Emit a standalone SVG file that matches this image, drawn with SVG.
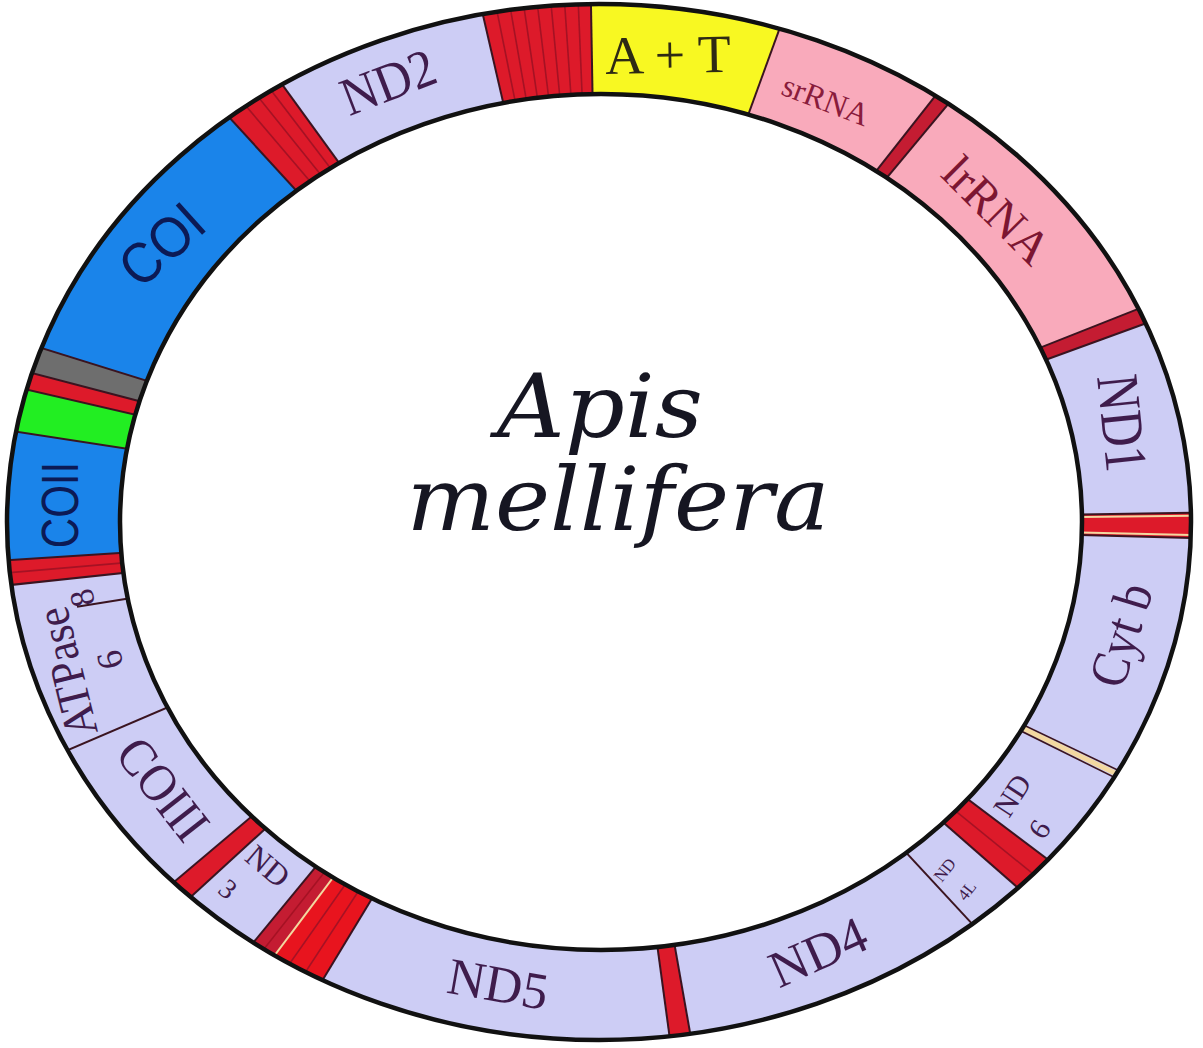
<svg xmlns="http://www.w3.org/2000/svg" width="1203" height="1048" viewBox="0 0 1203 1048">
<defs>
<clipPath id="ring"><path clip-rule="evenodd" d="M7,522 a592,518 0 1,0 1184,0 a592,518 0 1,0 -1184,0 Z M120,522 a481,428 0 1,0 962,0 a481,428 0 1,0 -962,0 Z"/></clipPath>
<style>
.nd{fill:#cdcdf5}
.rna{fill:#f9aabb}
.red{fill:#dd1a2a}
.dred{fill:#c41c32}
.blue{fill:#1a84ea}
.b{stroke:#3a1420;stroke-width:2}
.st{stroke:#a51224;stroke-width:1.6}
.pale{stroke:#f3d8a0;stroke-width:2}
.lbl{font-family:"Liberation Serif","Times New Roman",serif;fill:#3f1c4c;text-anchor:middle;dominant-baseline:central}
.sans{font-family:"Liberation Sans",Arial,sans-serif;fill:#0c1a55;text-anchor:middle;dominant-baseline:central}
.outl{fill:none;stroke:#111;stroke-width:4.5}
</style>
</defs>
<rect width="1203" height="1048" fill="#fff"/>

<g id="seg-COI"><polygon class="blue" clip-path="url(#ring)" points="600,522 -259.3,254.4 -8,-141.6"/><text class="sans" font-size="52" transform="translate(162,245) rotate(-42) scale(1,1.1)">COI</text></g>
<g id="trna-COI-ND2"><polygon class="red" clip-path="url(#ring)" points="600,522 -8,-141.6 71,-206.1"/></g>
<g id="seg-ND2"><polygon class="nd" clip-path="url(#ring)" points="600,522 71,-206.1 397.5,-354.9"/><text class="lbl" font-size="50" transform="translate(388,82) rotate(-21) scale(1,1.08)">ND2</text></g>
<g id="trna-ND2-AT"><polygon class="red" clip-path="url(#ring)" points="600,522 397.5,-354.9 584.3,-377.9"/></g>
<g id="seg-AT"><polygon fill="#f8f822" clip-path="url(#ring)" points="600,522 584.3,-377.9 907.8,-323.7"/><text class="lbl" font-size="54" style="fill:#2e2a14" transform="translate(668,55) rotate(-1)">A + T</text></g>
<g id="seg-srRNA"><polygon class="rna" clip-path="url(#ring)" points="600,522 907.8,-323.7 1156.6,-185.3"/><text class="lbl" font-size="32" style="fill:#8a1c3c" transform="translate(826,100) rotate(21)">srRNA</text></g>
<g id="trna-sr-lr"><polygon class="dred" clip-path="url(#ring)" points="600,522 1156.6,-185.3 1176.1,-169.5"/></g>
<g id="seg-lrRNA"><polygon class="rna" clip-path="url(#ring)" points="600,522 1176.1,-169.5 1436.8,190.7"/><text class="lbl" font-size="48" style="fill:#7c1632" transform="translate(997,210) rotate(45)">lrRNA</text></g>
<g id="trna-lr-ND1"><polygon class="dred" clip-path="url(#ring)" points="600,522 1436.8,190.7 1445.7,214.2"/></g>
<g id="seg-ND1"><polygon class="nd" clip-path="url(#ring)" points="600,522 1445.7,214.2 1499.9,507.9"/><text class="lbl" font-size="50" transform="translate(1122,423) rotate(84) scale(1,1.2)">ND1</text></g>
<g id="trna-ND1-Cytb"><polygon class="red" clip-path="url(#ring)" points="600,522 1499.9,507.9 1499.7,546.3"/></g>
<g id="seg-Cytb"><polygon class="nd" clip-path="url(#ring)" points="600,522 1499.7,546.3 1408.9,916.5"/><text class="lbl" font-size="48" transform="translate(1121,635) rotate(-73) scale(1,1.12)">Cyt b</text></g>
<g id="seg-ND6"><polygon class="nd" clip-path="url(#ring)" points="600,522 1408.9,916.5 1318.8,1063.6"/><text class="lbl" font-size="30" transform="translate(1012,795) rotate(-57)">ND</text><text class="lbl" font-size="30" transform="translate(1039,829) rotate(-57)">6</text></g>
<g id="trna-ND6-ND4L"><polygon class="red" clip-path="url(#ring)" points="600,522 1318.8,1063.6 1277.1,1114.9"/></g>
<g id="seg-ND4L"><polygon class="nd" clip-path="url(#ring)" points="600,522 1277.1,1114.9 1211.5,1182.4"/><text class="lbl" font-size="17" transform="translate(945,870) rotate(-52)">ND</text><text class="lbl" font-size="17" transform="translate(967,891) rotate(-52)">4L</text></g>
<g id="seg-ND4"><polygon class="nd" clip-path="url(#ring)" points="600,522 1211.5,1182.4 756.3,1408.3"/><text class="lbl" font-size="52" transform="translate(818,952) rotate(-24)">ND4</text></g>
<g id="trna-ND4-ND5"><polygon class="red" clip-path="url(#ring)" points="600,522 756.3,1408.3 720.6,1413.9"/></g>
<g id="seg-ND5"><polygon class="nd" clip-path="url(#ring)" points="600,522 720.6,1413.9 133.8,1291.8"/><text class="lbl" font-size="52" transform="translate(498,984) rotate(10)">ND5</text></g>
<g id="trna-ND5-ND3"><polygon fill="#e8141e" clip-path="url(#ring)" points="600,522 133.8,1291.8 59.6,1241.7"/><polygon class="dred" clip-path="url(#ring)" points="600,522 59.6,1241.7 27.5,1216.5"/></g>
<g id="seg-ND3"><polygon class="nd" clip-path="url(#ring)" points="600,522 27.5,1216.5 -63.6,1130"/><text class="lbl" font-size="32" transform="translate(268,866) rotate(40)">ND</text><text class="lbl" font-size="28" transform="translate(228,889) rotate(40)">3</text></g>
<g id="trna-ND3-COIII"><polygon class="red" clip-path="url(#ring)" points="600,522 -63.6,1130 -87.4,1102.9"/></g>
<g id="seg-COIII"><polygon class="nd" clip-path="url(#ring)" points="600,522 -87.4,1102.9 -227.2,876.5"/><text class="lbl" font-size="48" transform="translate(163,789) rotate(52) scale(1,1.1)">COIII</text></g>
<g id="seg-ATPase"><polygon class="nd" clip-path="url(#ring)" points="600,522 -227.2,876.5 -294.9,617.6"/><text class="lbl" font-size="43" transform="translate(67,672) rotate(-104) scale(1,1.1)">ATPase</text><text class="lbl" font-size="36" transform="translate(110,660) rotate(-104)">6</text><text class="lbl" font-size="34" transform="translate(82,598) rotate(-104)">8</text></g>
<g id="trna-ATP-COII"><polygon class="red" clip-path="url(#ring)" points="600,522 -294.9,617.6 -298.1,580.1"/></g>
<g id="seg-COII"><polygon class="blue" clip-path="url(#ring)" points="600,522 -298.1,580.1 -289.4,384.3"/><text class="sans" font-size="42" transform="translate(60,505) rotate(-90) scale(1,1.25)">COII</text></g>
<g id="seg-green"><polygon fill="#22ee22" clip-path="url(#ring)" points="600,522 -289.4,384.3 -276.9,319.5"/></g>
<g id="trna-green-gray"><polygon class="red" clip-path="url(#ring)" points="600,522 -276.9,319.5 -270.5,293.6"/></g>
<g id="seg-gray"><polygon fill="#6e6e6e" clip-path="url(#ring)" points="600,522 -270.5,293.6 -259.3,254.4"/></g>

<g id="connectors" clip-path="url(#ring)">
<g class="st">
<line x1="600" y1="522" x2="1500" y2="522" transform="rotate(229.6 600 522)"/>
<line x1="600" y1="522" x2="1500" y2="522" transform="rotate(231.2 600 522)"/>
<line x1="600" y1="522" x2="1500" y2="522" transform="rotate(232.7 600 522)"/>
<line x1="600" y1="522" x2="1500" y2="522" transform="rotate(258.6 600 522)"/>
<line x1="600" y1="522" x2="1500" y2="522" transform="rotate(260.1 600 522)"/>
<line x1="600" y1="522" x2="1500" y2="522" transform="rotate(261.6 600 522)"/>
<line x1="600" y1="522" x2="1500" y2="522" transform="rotate(263.1 600 522)"/>
<line x1="600" y1="522" x2="1500" y2="522" transform="rotate(264.6 600 522)"/>
<line x1="600" y1="522" x2="1500" y2="522" transform="rotate(266.1 600 522)"/>
<line x1="600" y1="522" x2="1500" y2="522" transform="rotate(267.6 600 522)"/>
<line x1="600" y1="522" x2="1500" y2="522" transform="rotate(39.1 600 522)"/>
<line x1="600" y1="522" x2="1500" y2="522" transform="rotate(123.2 600 522)"/>
<line x1="600" y1="522" x2="1500" y2="522" transform="rotate(125.1 600 522)"/>
<line x1="600" y1="522" x2="1500" y2="522" transform="rotate(128.2 600 522)"/>
<line x1="600" y1="522" x2="1500" y2="522" transform="rotate(175.1 600 522)"/>
</g>
<g class="pale">
<line x1="600" y1="522" x2="1500" y2="522" transform="rotate(359.4 600 522)"/>
<line x1="600" y1="522" x2="1500" y2="522" transform="rotate(1.25 600 522)"/>
<line x1="600" y1="522" x2="1500" y2="522" transform="rotate(126.9 600 522)"/>
<line x1="600" y1="522" x2="1500" y2="522" transform="rotate(26 600 522)" stroke-width="5"/>
</g>
<g class="b">
<line x1="600" y1="522" x2="1500" y2="522" transform="rotate(227.5 600 522)"/>
<line x1="600" y1="522" x2="1500" y2="522" transform="rotate(234 600 522)"/>
<line x1="600" y1="522" x2="1500" y2="522" transform="rotate(257 600 522)"/>
<line x1="600" y1="522" x2="1500" y2="522" transform="rotate(269 600 522)"/>
<line x1="600" y1="522" x2="1500" y2="522" transform="rotate(290 600 522)"/>
<line x1="600" y1="522" x2="1500" y2="522" transform="rotate(308.2 600 522)"/>
<line x1="600" y1="522" x2="1500" y2="522" transform="rotate(309.8 600 522)"/>
<line x1="600" y1="522" x2="1500" y2="522" transform="rotate(338.4 600 522)"/>
<line x1="600" y1="522" x2="1500" y2="522" transform="rotate(340 600 522)"/>
<line x1="600" y1="522" x2="1500" y2="522" transform="rotate(359.1 600 522)"/>
<line x1="600" y1="522" x2="1500" y2="522" transform="rotate(1.55 600 522)"/>
<line x1="600" y1="522" x2="1500" y2="522" transform="rotate(25.6 600 522)" stroke-width="1.6"/>
<line x1="600" y1="522" x2="1500" y2="522" transform="rotate(26.4 600 522)" stroke-width="1.6"/>
<line x1="600" y1="522" x2="1500" y2="522" transform="rotate(37 600 522)"/>
<line x1="600" y1="522" x2="1500" y2="522" transform="rotate(41.2 600 522)"/>
<line x1="600" y1="522" x2="1500" y2="522" transform="rotate(47.2 600 522)"/>
<line x1="600" y1="522" x2="1500" y2="522" transform="rotate(80 600 522)"/>
<line x1="600" y1="522" x2="1500" y2="522" transform="rotate(82.3 600 522)"/>
<line x1="600" y1="522" x2="1500" y2="522" transform="rotate(121.2 600 522)"/>
<line x1="600" y1="522" x2="1500" y2="522" transform="rotate(129.5 600 522)"/>
<line x1="600" y1="522" x2="1500" y2="522" transform="rotate(137.5 600 522)"/>
<line x1="600" y1="522" x2="1500" y2="522" transform="rotate(139.8 600 522)"/>
<line x1="600" y1="522" x2="1500" y2="522" transform="rotate(156.8 600 522)"/>
<line x1="600" y1="522" x2="1500" y2="522" transform="rotate(173.9 600 522)"/>
<line x1="600" y1="522" x2="1500" y2="522" transform="rotate(176.3 600 522)"/>
<line x1="600" y1="522" x2="1500" y2="522" transform="rotate(188.8 600 522)"/>
<line x1="600" y1="522" x2="1500" y2="522" transform="rotate(193 600 522)"/>
<line x1="600" y1="522" x2="1500" y2="522" transform="rotate(194.7 600 522)"/>
<line x1="600" y1="522" x2="1500" y2="522" transform="rotate(197.3 600 522)"/>
<line x1="126.8" y1="598.7" x2="77" y2="606.7"/>
</g>
</g>

<g id="outline">
<ellipse class="outl" cx="599" cy="522" rx="592" ry="518"/>
<ellipse class="outl" cx="601" cy="522" rx="481" ry="428"/>
</g>

<g id="title" font-family="'DejaVu Serif','Liberation Serif',serif" font-style="italic" fill="#161622" text-anchor="middle">
<text x="600" y="437" font-size="88" textLength="206" lengthAdjust="spacingAndGlyphs">Apis</text>
<text x="618" y="530" font-size="88" textLength="423" lengthAdjust="spacingAndGlyphs">mellifera</text>
</g>
</svg>
